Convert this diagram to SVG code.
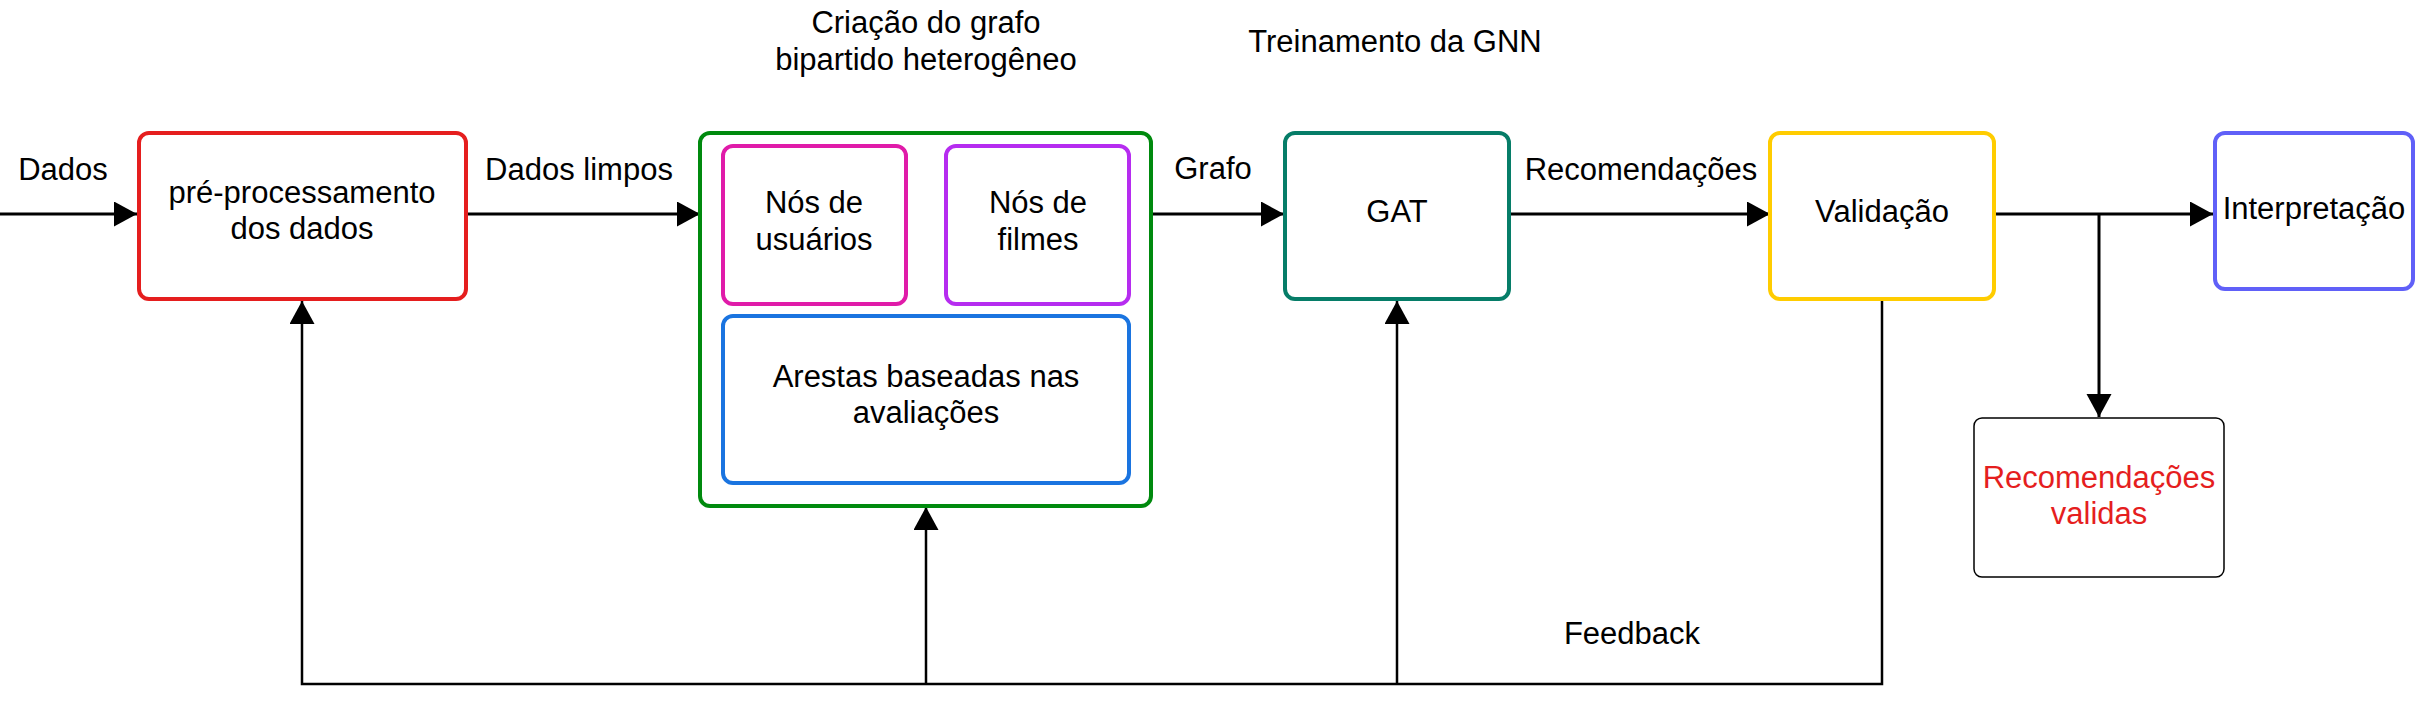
<svg xmlns="http://www.w3.org/2000/svg" width="2420" height="711" viewBox="0 0 2420 711">
<style>
text{font-family:"Liberation Sans",Arial,sans-serif;font-size:31px;fill:#000;text-anchor:middle}
.box{fill:#fff;stroke-width:4}
.ln{fill:none;stroke:#000;stroke-width:3}
.fb{fill:none;stroke:#000;stroke-width:2.5}
</style>
<defs>
<marker id="ah" markerUnits="userSpaceOnUse" markerWidth="24" markerHeight="26" refX="23" refY="12.5" orient="auto">
<path d="M0,0 L23,12.5 L0,25 Z" fill="#000"/>
</marker>
</defs>
<rect width="2420" height="711" fill="#fff"/>
<g id="labels">
<text x="63" y="180">Dados</text>
<text x="579" y="180">Dados limpos</text>
<text x="926" y="33">Criação do grafo</text>
<text x="926" y="70">bipartido heterogêneo</text>
<text x="1213" y="179">Grafo</text>
<text x="1395" y="52">Treinamento da GNN</text>
<text x="1641" y="180">Recomendações</text>
<text x="1632" y="644">Feedback</text>
</g>
<g id="connectors">
<path class="ln" d="M0,214 H137" marker-end="url(#ah)"/>
<path class="ln" d="M466,214 H700" marker-end="url(#ah)"/>
<path class="ln" d="M1151,214 H1284" marker-end="url(#ah)"/>
<path class="ln" d="M1509,214 H1770" marker-end="url(#ah)"/>
<path class="ln" d="M1994,214 H2213" marker-end="url(#ah)"/>
<path class="ln" d="M2099,214 V417" marker-end="url(#ah)"/>
<path class="fb" d="M1882,299 V684 H302 V301" marker-end="url(#ah)"/>
<path class="fb" d="M926,684 V507" marker-end="url(#ah)"/>
<path class="fb" d="M1397,684 V301" marker-end="url(#ah)"/>
</g>
<g id="preproc">
<rect class="box" x="139" y="133" width="327" height="166" rx="10" stroke="#e51e1e"/>
<text x="302" y="203">pré-processamento</text>
<text x="302" y="239">dos dados</text>
</g>
<g id="grafo">
<rect class="box" x="700" y="133" width="451" height="373" rx="10" stroke="#008a0e"/>
</g>
<g id="nos-usuarios">
<rect class="box" x="723" y="146" width="183" height="158" rx="10" stroke="#e01ba9"/>
<text x="814" y="213">Nós de</text>
<text x="814" y="250">usuários</text>
</g>
<g id="nos-filmes">
<rect class="box" x="946" y="146" width="183" height="158" rx="10" stroke="#b62cf0"/>
<text x="1038" y="213">Nós de</text>
<text x="1038" y="250">filmes</text>
</g>
<g id="arestas">
<rect class="box" x="723" y="316" width="406" height="167" rx="10" stroke="#1a74e0"/>
<text x="926" y="387">Arestas baseadas nas</text>
<text x="926" y="423">avaliações</text>
</g>
<g id="gat">
<rect class="box" x="1285" y="133" width="224" height="166" rx="10" stroke="#067d68"/>
<text x="1397" y="222">GAT</text>
</g>
<g id="validacao">
<rect class="box" x="1770" y="133" width="224" height="166" rx="10" stroke="#ffcc00"/>
<text x="1882" y="222">Validação</text>
</g>
<g id="interpretacao">
<rect class="box" x="2215" y="133" width="198" height="156" rx="10" stroke="#6060f8"/>
<text x="2314" y="219">Interpretação</text>
</g>
<g id="rec-validas">
<rect x="1974" y="418" width="250" height="159" rx="8" fill="#fff" stroke="#000" stroke-width="1.5"/>
<text x="2099" y="488" style="fill:#e51e1e">Recomendações</text>
<text x="2099" y="524" style="fill:#e51e1e">validas</text>
</g>
</svg>
